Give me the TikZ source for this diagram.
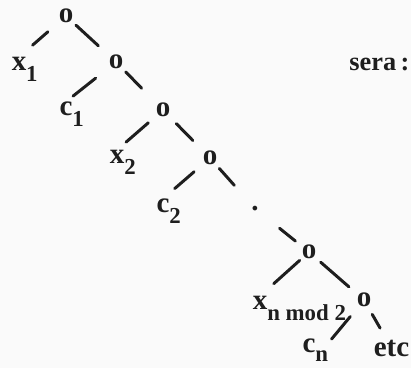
\documentclass[tikz,border=0pt]{standalone}
\usepackage{fontspec}
\setmainfont{Liberation Serif}
\usetikzlibrary{positioning}

\definecolor{ink}{HTML}{1E1E1E}
\definecolor{paper}{HTML}{FAFAFA}
\newcommand\lowsub[2][-6.3pt]{\rlap{\smash{\raisebox{#1}{\fontsize{13}{15}\selectfont #2}}}}

\begin{document}
\begin{tikzpicture}[x=0.2mm, y=-0.2mm, on grid,
    every node/.style={font=\fontsize{16.5}{19}\selectfont\bfseries, text=ink, inner sep=0pt},
    br/.style={draw=ink, line width=1.7pt, line cap=round}
]
    \fill[paper] (0,0) rectangle (411,368);
    \useasboundingbox (0,0) rectangle (411,368);

    % spine of the tree
    \node (o1) at (66,16) {o};
    \node[below right=9.2mm and 10mm of o1] (o2) {o};
    \node[below right=9.6mm and 9.4mm of o2] (o3) {o};
    \node[below right=9.6mm and 9.4mm of o3] (o4) {o};
    \node[below right=10.1mm and 9mm of o4] (dots) {.};
    \node[below right=8.7mm and 10.8mm of dots] (o5) {o};
    \node[below right=9.6mm and 11mm of o5] (o6) {o};

    % leaves
    \node[below left=9.6mm and 9.4mm of o1] (x1) {x\lowsub{1}};
    \node[below left=9.4mm and 10mm of o2] (c1) {c\lowsub{1}};
    \node[below left=9.4mm and 9.2mm of o3] (x2) {x\lowsub{2}};
    \node[below left=9.6mm and 9.4mm of o4] (c2) {c\lowsub{2}};
    \node[below left=10.2mm and 9.8mm of o5] (xn) {x\lowsub{n mod 2}};
    \node[below left=9.2mm and 11mm of o6] (cn) {c\lowsub[-5pt]{n}};
    \node[below right=9.6mm and 5.5mm of o6] (etc) {etc};

    \node[anchor=base west, font=\fontsize{15}{18}\selectfont\bfseries] (sera) at (349,70) {sera\,:};

    % branches
    \draw[br, shorten <=4.8mm, shorten >=3.6mm] (o1.center) -- (x1.north);
    \draw[br, shorten <=2.7mm, shorten >=4.8mm] (o1.center) -- (o2.center);
    \draw[br, shorten <=5.2mm, shorten >=1.8mm] (o2.center) -- (c1.north);
    \draw[br, shorten <=2.8mm, shorten >=6.1mm] (o2.center) -- (o3.center);
    \draw[br, shorten <=3.9mm, shorten >=2.4mm] (o3.center) -- (x2.north);
    \draw[br, shorten <=3.8mm, shorten >=4.9mm] (o3.center) -- (o4.center);
    \draw[br, shorten <=4.2mm, shorten >=3.1mm] (o4.center) -- (c2.north);
    \draw[br, shorten <=2.8mm, shorten >=6.2mm] (o4.center) -- (dots.center);
    \draw[br, shorten <=6.3mm, shorten >=3.5mm] (dots.center) -- (o5.center);
    \draw[br, shorten <=2.5mm, shorten >=3.7mm] (o5.center) -- (xn.north);
    \draw[br, shorten <=3.1mm, shorten >=4mm] (o5.center) -- (o6.center);
    \draw[br, shorten <=4.3mm, shorten >=1.8mm] (o6.center) -- ([xshift=2mm]cn.east);
    \draw[br, shorten <=3.3mm, shorten >=4.6mm] (o6.center) -- (etc.center);
\end{tikzpicture}
\end{document}
